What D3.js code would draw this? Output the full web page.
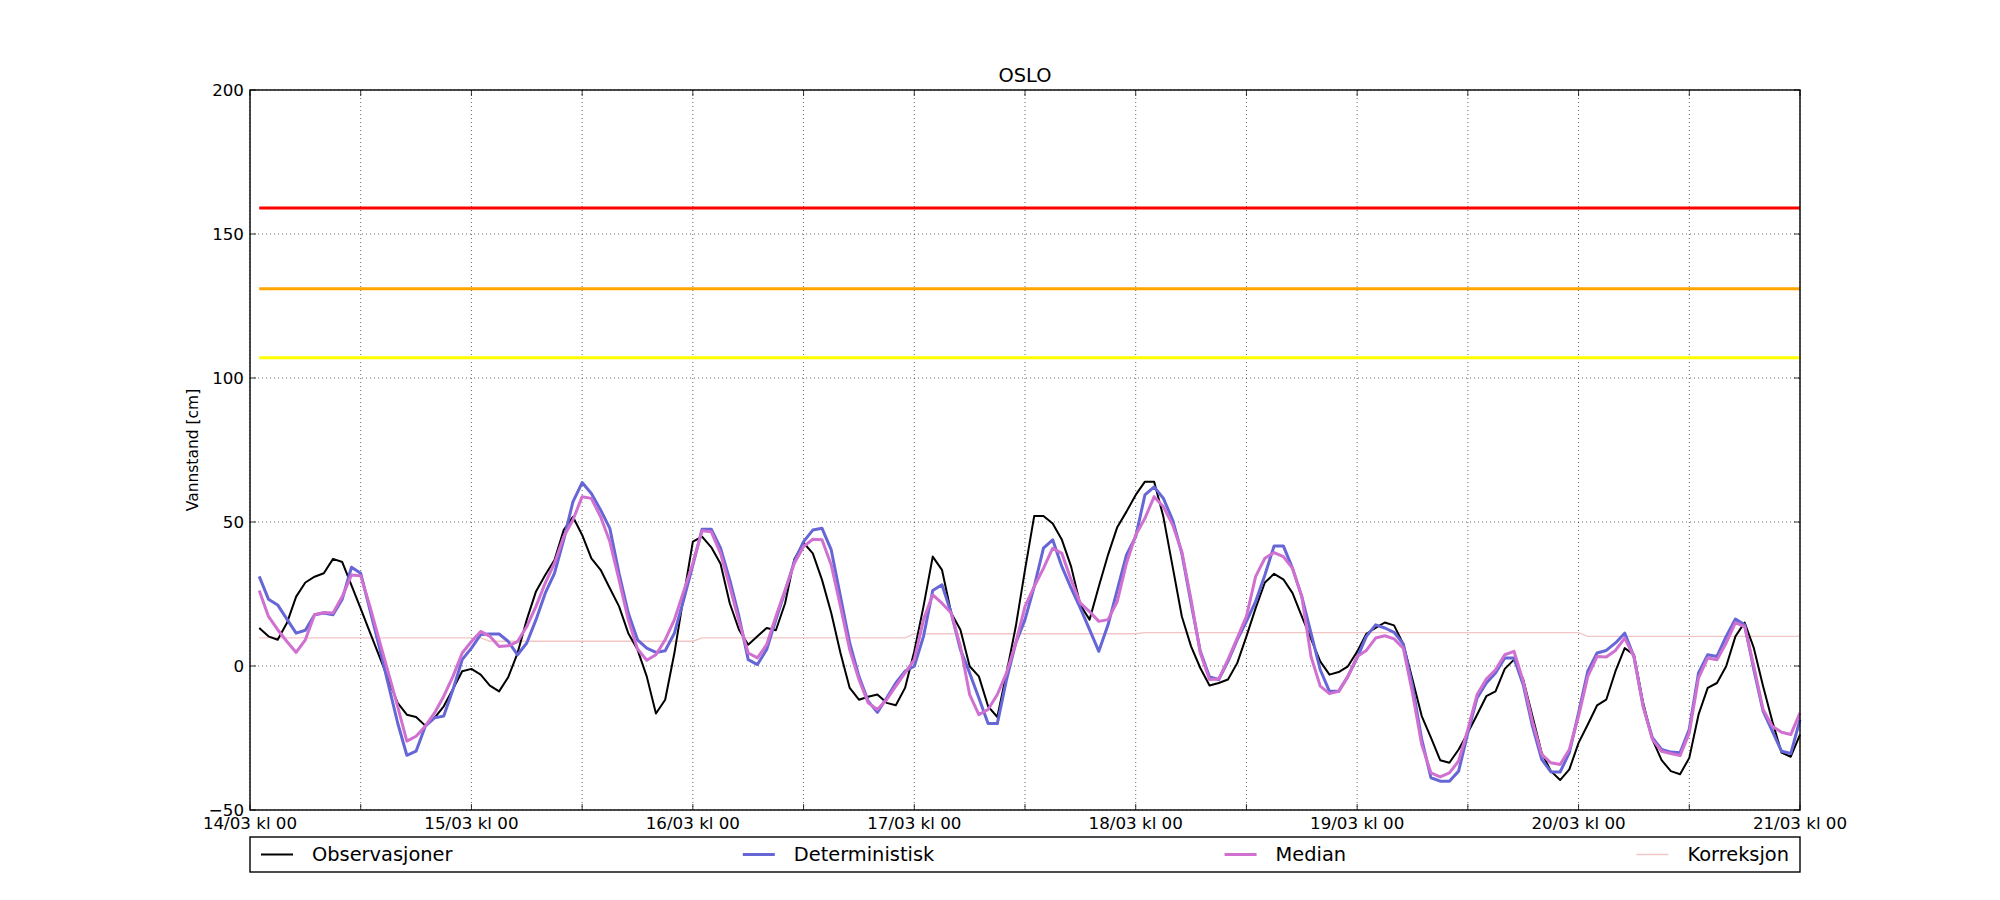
<!DOCTYPE html>
<html>
<head>
<meta charset="utf-8">
<script src="https://cdn.jsdelivr.net/npm/d3@7"></script>
<style>
  body { margin: 0; background: #fff; }
  svg { font-family: "DejaVu Sans", sans-serif; }
</style>
</head>
<body>
<script>
// hourly values, first value at 14/03 kl 01, last at 21/03 kl 00
const observasjoner = [
  13.2, 10.3, 9.1, 14.9, 24.1, 29.0, 31.0, 32.2, 37.2, 36.1, 28.0, 19.9, 11.7, 3.5, -4.7, -12.8, -16.9, -17.7, -20.7, -18.0, -14.0, -8.0, -1.8, -1.0,
  -3.0, -6.8, -8.8, -3.8, 4.5, 16.1, 25.9, 31.6, 36.8, 47.2, 51.8, 45.5, 37.4, 33.4, 27.0, 20.7, 11.4, 5.7, -3.6, -16.5, -11.7, 4.5, 24.1, 43.2,
  44.9, 41.2, 35.5, 21.8, 12.6, 7.4, 10.3, 13.2, 12.4, 21.8, 37.1, 42.8, 39.1, 29.9, 18.4, 4.5, -7.6, -11.7, -10.7, -9.9, -12.8, -13.6, -7.6, 5.1,
  20.7, 38.0, 33.4, 18.4, 12.6, -0.1, -3.6, -14.0, -17.7, -2.4, 13.7, 33.4, 52.1, 52.1, 49.5, 43.8, 34.5, 21.2, 16.1, 27.6, 38.6, 48.2, 53.6, 59.4,
  64.0, 64.0, 51.8, 34.5, 17.2, 6.8, -0.7, -6.8, -5.9, -4.7, 1.0, 10.3, 20.1, 29.0, 32.0, 30.1, 25.3, 17.2, 9.4, 1.6, -3.0, -2.1, -0.1, 5.0,
  11.2, 13.2, 15.1, 14.1, 7.7, -4.7, -17.4, -24.9, -32.7, -33.6, -29.0, -23.2, -16.9, -10.5, -8.8, -1.0, 2.2, -4.7, -17.4, -30.1, -36.5, -39.6, -35.9, -26.7,
  -20.3, -13.7, -11.7, -1.8, 6.2, 3.9, -12.8, -25.5, -32.7, -36.5, -37.6, -31.9, -16.9, -7.6, -5.9, -0.1, 10.3, 15.1, 6.2, -7.0, -19.2, -30.1, -31.5, -23.8
];
const deterministisk = [
  31.1, 23.2, 21.2, 16.3, 11.4, 12.4, 17.8, 18.4, 17.8, 23.2, 34.3, 32.2, 19.5, 6.8, -6.5, -19.7, -31.0, -29.6, -20.9, -18.0, -17.4, -8.2, 2.2, 6.2,
  10.9, 11.1, 11.1, 8.5, 3.9, 8.0, 16.1, 25.3, 32.2, 43.8, 57.0, 63.7, 59.9, 54.2, 47.8, 32.2, 18.4, 9.1, 6.2, 4.7, 5.3, 11.4, 23.0, 35.0,
  47.5, 47.5, 40.9, 29.9, 17.2, 2.2, 0.5, 5.7, 16.1, 25.9, 36.3, 43.2, 47.2, 47.8, 40.3, 24.1, 8.0, -3.6, -12.2, -16.1, -11.1, -5.9, -1.8, -0.1,
  10.3, 26.2, 28.2, 18.4, 5.7, -2.4, -11.1, -20.0, -20.0, -4.7, 8.0, 16.1, 27.6, 40.9, 43.8, 34.5, 27.0, 20.1, 12.6, 5.1, 14.3, 26.4, 38.6, 44.9,
  59.4, 62.2, 58.2, 50.7, 39.1, 21.8, 5.1, -3.8, -4.7, 1.6, 9.1, 15.5, 22.4, 31.6, 41.7, 41.7, 33.9, 24.1, 11.4, -1.3, -8.8, -8.8, -3.6, 2.8,
  10.3, 14.3, 13.2, 11.7, 7.7, -7.0, -25.5, -38.8, -40.0, -40.0, -36.5, -23.2, -11.1, -5.9, -2.4, 2.8, 2.8, -6.5, -20.9, -32.4, -36.8, -36.8, -30.1, -16.3,
  -1.8, 4.5, 5.4, 8.0, 11.4, 3.3, -14.0, -24.9, -29.0, -29.9, -30.1, -22.0, -2.4, 3.9, 3.3, 10.3, 16.3, 14.3, -1.3, -15.7, -22.6, -29.6, -30.4, -18.6
];
const median = [
  26.2, 17.2, 12.6, 8.5, 4.7, 9.1, 17.8, 18.6, 18.4, 24.1, 31.6, 31.3, 20.7, 9.1, -2.4, -14.0, -26.1, -24.4, -20.9, -16.3, -10.5, -3.6, 4.5, 8.5,
  12.0, 10.3, 6.8, 7.0, 8.5, 13.7, 20.7, 28.8, 35.7, 44.9, 50.7, 58.8, 58.2, 51.8, 43.2, 29.9, 16.1, 5.9, 2.0, 3.9, 9.1, 16.1, 25.9, 35.7,
  47.0, 46.6, 39.1, 27.6, 15.5, 4.5, 2.8, 7.4, 17.2, 26.4, 35.7, 41.5, 44.0, 43.8, 35.1, 20.7, 5.7, -4.7, -12.8, -15.1, -11.7, -7.0, -2.4, 2.2,
  16.1, 24.7, 21.8, 18.4, 6.8, -9.9, -16.9, -15.1, -9.9, -2.4, 8.0, 20.7, 27.6, 33.9, 40.9, 39.1, 29.9, 21.8, 18.9, 15.5, 16.1, 22.4, 35.7, 45.5,
  51.3, 58.8, 55.3, 49.0, 39.7, 23.0, 4.5, -4.7, -4.5, 2.2, 9.7, 17.2, 31.1, 37.4, 39.4, 38.0, 33.9, 24.1, 3.3, -7.0, -9.6, -8.8, -3.6, 3.3,
  5.4, 9.7, 10.5, 9.4, 6.2, -9.4, -27.3, -37.1, -38.5, -37.1, -33.0, -22.0, -9.9, -4.5, -1.3, 3.9, 5.1, -5.3, -19.2, -30.7, -33.6, -34.2, -29.0, -17.4,
  -3.6, 3.3, 3.1, 5.4, 9.7, 3.3, -14.0, -25.5, -29.6, -30.4, -31.1, -23.2, -4.2, 2.8, 2.2, 8.0, 15.1, 13.7, -0.1, -15.1, -20.9, -23.0, -23.8, -16.3
];
// correction only changes in a few steps: hours after 14/03 kl 00
const korreksjonHours = [1, 25, 26, 48, 49, 71, 72, 96, 97, 144, 145, 168];
const korreksjonValues = [9.8, 9.8, 8.6, 8.6, 9.8, 9.8, 11.2, 11.2, 11.6, 11.6, 10.3, 10.3];

const thresholds = [159, 131, 107];
const thresholdColors = ['#ff0000', '#ffa500', '#ffff00'];

const yTicks = [-50, 0, 50, 100, 150, 200];
const legendLabels = ['Observasjoner', 'Deterministisk', 'Median', 'Korreksjon'];
const title = 'OSLO';
const yLabel = 'Vannstand [cm]';

// layout (matplotlib default figure 20x9 in at 100 dpi)
const W = 2000, H = 900;
const L = 250, R = 1800, T = 90, B = 810;
const HOUR = 3600 * 1000;
const t0 = Date.UTC(2016, 2, 14, 0);
const t1 = Date.UTC(2016, 2, 21, 0);

const svg = d3.select('body').append('svg').attr('width', W).attr('height', H);

const x = d3.scaleUtc().domain([t0, t1]).range([L, R]);
const y = d3.scaleLinear().domain([-50, 200]).range([B, T]);

const xTicks = d3.range(t0, t1 + 1, 12 * HOUR);
const fmt = d3.utcFormat('%d/%m kl %H');

// grid
const grid = svg.append('g').attr('stroke', '#000').attr('stroke-width', 0.6)
    .attr('stroke-dasharray', '1,3');
grid.selectAll('.gx').data(xTicks).enter().append('line')
    .attr('x1', d => x(d)).attr('x2', d => x(d)).attr('y1', T).attr('y2', B);
grid.selectAll('.gy').data(yTicks).enter().append('line')
    .attr('x1', L).attr('x2', R).attr('y1', d => y(d)).attr('y2', d => y(d));

const lineOf = (values) => d3.line()
    .x((d, i) => x(t0 + (i + 1) * HOUR))
    .y(d => y(d))(values);

// warning levels
svg.selectAll('.thr').data(thresholds).enter().append('line')
    .attr('x1', x(t0 + HOUR)).attr('x2', x(t1))
    .attr('y1', d => y(d)).attr('y2', d => y(d))
    .attr('stroke', (d, i) => thresholdColors[i]).attr('stroke-width', 3);

const series = [
  { values: observasjoner, color: '#000000', width: 2 },
  { values: deterministisk, color: '#6666d6', width: 3 },
  { values: median, color: '#d070d0', width: 3 },
];

svg.append('path')
    .attr('d', d3.line().x((d, i) => x(t0 + korreksjonHours[i] * HOUR)).y(d => y(d))(korreksjonValues))
    .attr('fill', 'none').attr('stroke', '#f2c6c6').attr('stroke-width', 1.3);

series.forEach(s => {
  svg.append('path').attr('d', lineOf(s.values))
      .attr('fill', 'none').attr('stroke', s.color)
      .attr('stroke-width', s.width).attr('stroke-linejoin', 'round');
});

// frame
svg.append('rect').attr('x', L).attr('y', T).attr('width', R - L).attr('height', B - T)
    .attr('fill', 'none').attr('stroke', '#000').attr('stroke-width', 1.4);

// inward ticks on all four sides
const ticks = svg.append('g').attr('stroke', '#000').attr('stroke-width', 0.8);
xTicks.forEach(t => {
  ticks.append('line').attr('x1', x(t)).attr('x2', x(t)).attr('y1', B).attr('y2', B - 6);
  ticks.append('line').attr('x1', x(t)).attr('x2', x(t)).attr('y1', T).attr('y2', T + 6);
});
yTicks.forEach(v => {
  ticks.append('line').attr('x1', L).attr('x2', L + 6).attr('y1', y(v)).attr('y2', y(v));
  ticks.append('line').attr('x1', R).attr('x2', R - 6).attr('y1', y(v)).attr('y2', y(v));
});

// tick labels
svg.selectAll('.xl').data(xTicks.filter(t => new Date(t).getUTCHours() === 0)).enter().append('text')
    .attr('x', d => x(d)).attr('y', 829).attr('text-anchor', 'middle')
    .attr('font-size', '16.7px').text(d => fmt(new Date(d)));
svg.selectAll('.yl').data(yTicks).enter().append('text')
    .attr('x', L - 6).attr('y', d => y(d)).attr('dy', '0.36em').attr('text-anchor', 'end')
    .attr('font-size', '16.7px').text(d => d < 0 ? '\u2212' + Math.abs(d) : d);

svg.append('text').attr('x', (L + R) / 2).attr('y', 82).attr('text-anchor', 'middle')
    .attr('font-size', '19.4px').text(title);
svg.append('text').attr('transform', `translate(198,${(T + B) / 2}) rotate(-90)`)
    .attr('text-anchor', 'middle').attr('font-size', '15.5px').text(yLabel);

// legend, 4 columns spread over the axes width
const legTop = 837, legBot = 872;
svg.append('rect').attr('x', L).attr('y', legTop).attr('width', R - L).attr('height', legBot - legTop)
    .attr('fill', '#fff').attr('stroke', '#000').attr('stroke-width', 1.4);
const legColors = ['#000000', '#6666d6', '#d070d0', '#f2c6c6'];
const legWidths = [2, 3, 3, 1.3];
const handle = 32, pad = 19, inner = 11;
const items = legendLabels.map((lab, i) => {
  const g = svg.append('g');
  g.append('line').attr('x1', 0).attr('x2', handle).attr('y1', 0).attr('y2', 0)
      .attr('stroke', legColors[i]).attr('stroke-width', legWidths[i]);
  const txt = g.append('text').attr('x', handle + pad).attr('y', 0).attr('dy', '0.36em')
      .attr('font-size', '19.4px').text(lab);
  return { g, w: handle + pad + txt.node().getComputedTextLength() };
});
const total = d3.sum(items, d => d.w);
const gap = ((R - L - 2 * inner) - total) / (items.length - 1);
let cx = L + inner;
items.forEach(it => {
  it.g.attr('transform', `translate(${cx},${(legTop + legBot) / 2})`);
  cx += it.w + gap;
});
</script>
</body>
</html>
